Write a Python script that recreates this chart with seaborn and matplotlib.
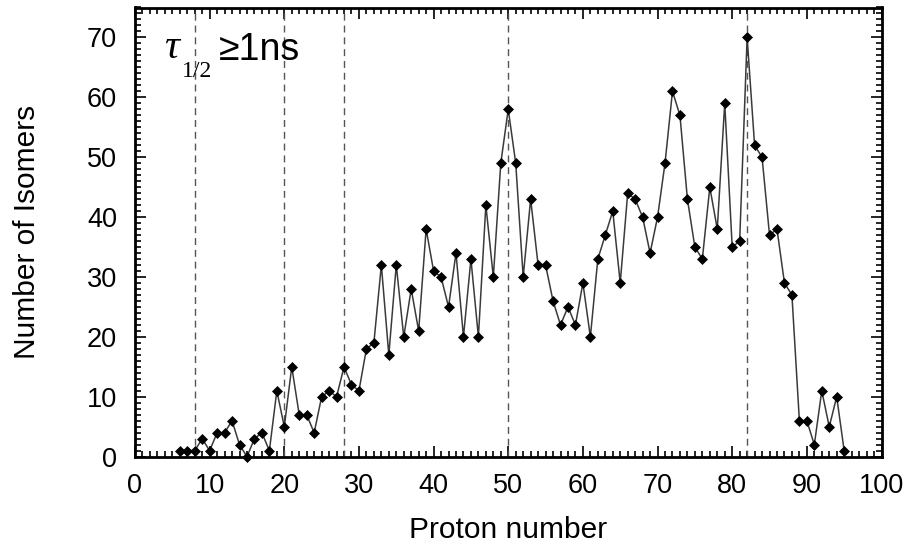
import matplotlib
matplotlib.use("Agg")
import matplotlib.pyplot as plt
import seaborn as sns
import pandas as pd
from matplotlib.ticker import MultipleLocator

proton_number = list(range(6, 96))
isomers = [1, 1, 1, 3, 1, 4, 4, 6, 2, 0,          # 6-15
           3, 4, 1, 11, 5, 15, 7, 7, 4, 10,       # 16-25
           11, 10, 15, 12, 11, 18, 19, 32, 17, 32,  # 26-35
           20, 28, 21, 38, 31, 30, 25, 34, 20, 33,  # 36-45
           20, 42, 30, 49, 58, 49, 30, 43, 32, 32,  # 46-55
           26, 22, 25, 22, 29, 20, 33, 37, 41, 29,  # 56-65
           44, 43, 40, 34, 40, 49, 61, 57, 43, 35,  # 66-75
           33, 45, 38, 59, 35, 36, 70, 52, 50, 37,  # 76-85
           38, 29, 27, 6, 6, 2, 11, 5, 10, 1]       # 86-95
magic_numbers = [8, 20, 28, 50, 82]
x_ticks = list(range(0, 101, 10))
y_ticks = list(range(0, 71, 10))

sns.set_style("white")
plt.rcParams['font.family'] = ['Liberation Sans', 'DejaVu Sans']
plt.rcParams.update({"text.color": "black", "axes.labelcolor": "black",
                     "xtick.color": "black", "ytick.color": "black"})

df = pd.DataFrame({"Z": proton_number, "N": isomers})

W, H = 908, 546
fig = plt.figure(figsize=(W / 100, H / 100), dpi=100)
ax = fig.add_axes([135 / W, 1 - 456.7 / H, (881.5 - 135) / W, (456.7 - 7.5) / H])

for m in magic_numbers:
    ax.axvline(m, color="#555555", lw=1.0, ls=(0, (5, 3.5)), zorder=1)

sns.lineplot(data=df, x="Z", y="N", ax=ax, color="#3a3a3a", lw=1.1,
             marker="D", markersize=5, markerfacecolor="black",
             markeredgecolor="black", markeredgewidth=0.5, zorder=3,
             clip_on=False)

ax.set_xlim(0, 100)
ax.set_ylim(0, 75)
ax.set_xticks(x_ticks)
ax.set_yticks(y_ticks)
ax.xaxis.set_minor_locator(MultipleLocator(1))
ax.yaxis.set_minor_locator(MultipleLocator(1))
ax.tick_params(which="both", direction="in", top=True, right=True,
               bottom=True, left=True, color="black", width=1.2)
ax.tick_params(which="major", length=8)
ax.tick_params(which="minor", length=4.5)
ax.tick_params(axis="x", which="major", labelsize=19.5, pad=12, labelcolor="black")
ax.tick_params(axis="y", which="major", labelsize=19.5, pad=13, labelcolor="black")
for s in ax.spines.values():
    s.set_linewidth(2.0)
    s.set_color("black")

ax.set_xlabel("Proton number", fontsize=21.5, labelpad=12, color="black")
ax.set_ylabel("Number of Isomers", fontsize=21.5, labelpad=33, color="black")

def px(x, y):
    return x / W, 1 - y / H

fig.text(*px(164, 58), "τ", fontsize=30, style="italic", color="black",
         family=["Liberation Serif", "DejaVu Serif"], va="baseline")
fig.text(*px(182, 77), "1/2", fontsize=17, color="black",
         family=["Liberation Serif", "DejaVu Serif"], va="baseline")
fig.text(*px(219, 60), "≥1ns", fontsize=27, color="black", va="baseline")

fig.savefig("out.png", dpi=100)
